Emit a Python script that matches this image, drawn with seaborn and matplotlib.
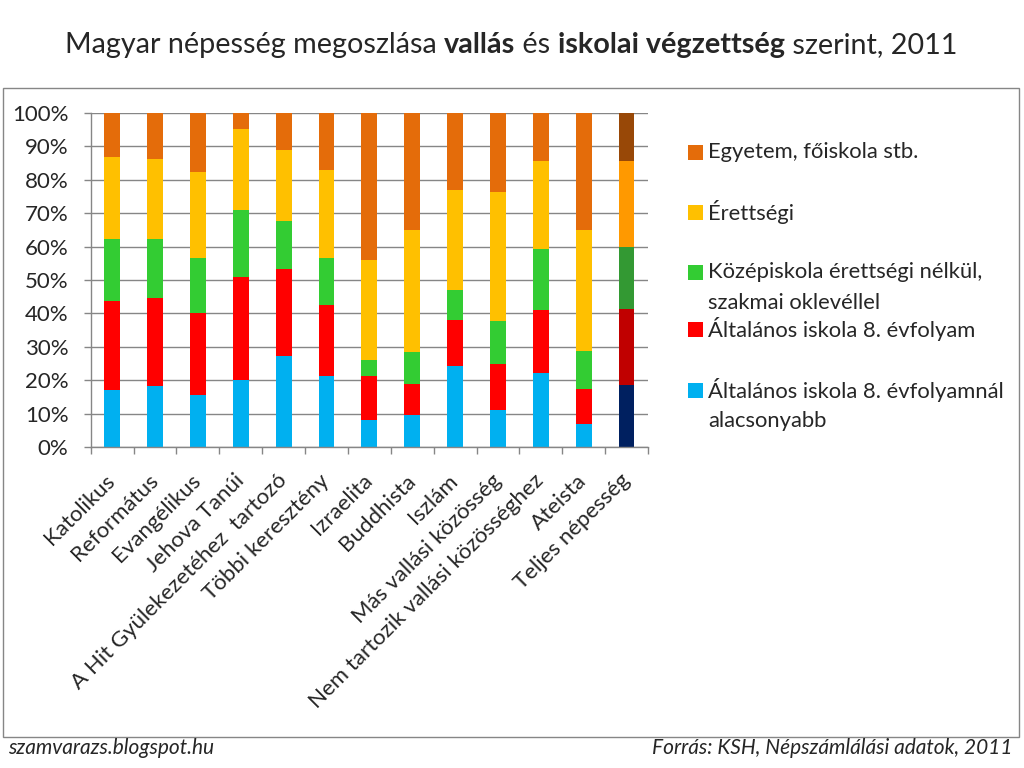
import matplotlib
matplotlib.use("Agg")
import numpy as np
import pandas as pd
import matplotlib.pyplot as plt
from matplotlib.patches import Rectangle
import seaborn as sns

# data (percent of each group)
categories = ["Katolikus", "Református", "Evangélikus", "Jehova Tanúi",
              "A Hit Gyülekezetéhez  tartozó", "Többi keresztény", "Izraelita",
              "Buddhista", "Iszlám", "Más vallási közösség",
              "Nem tartozik vallási közösséghez", "Ateista", "Teljes népesség"]
also_8 = [17.0, 18.2, 15.7, 20.0, 27.3, 21.4, 8.2, 9.6, 24.2, 11.0, 22.3, 6.8, 18.5]
alt_8 = [26.8, 26.5, 24.4, 30.9, 25.9, 21.0, 13.1, 9.3, 13.9, 14.0, 18.7, 10.7, 22.9]
kozep = [18.4, 17.5, 16.4, 20.2, 14.6, 14.1, 4.7, 9.4, 9.0, 12.8, 18.3, 11.2, 18.5]
erettsegi = [24.5, 23.9, 25.9, 24.0, 21.1, 26.3, 30.1, 36.7, 29.7, 38.4, 26.3, 36.3, 25.7]
egyetem = [13.3, 13.9, 17.6, 4.9, 11.1, 17.2, 43.9, 35.0, 23.2, 23.8, 14.4, 35.0, 14.4]

layers = ["also_8", "alt_8", "kozep", "erettsegi", "egyetem"]
legend_lines = [["Általános iskola 8. évfolyamnál", "alacsonyabb"],
                ["Általános iskola 8. évfolyam"],
                ["Középiskola érettségi nélkül,", "szakmai oklevéllel"],
                ["Érettségi"],
                ["Egyetem, főiskola stb."]]
colors = ["#00B0F0", "#FF0000", "#33CC33", "#FFC000", "#E46C0A"]
total_colors = ["#002060", "#C00000", "#339933", "#FF9900", "#984807"]

df = pd.DataFrame({"kategoria": categories, "also_8": also_8, "alt_8": alt_8,
                   "kozep": kozep, "erettsegi": erettsegi, "egyetem": egyetem})
cum = df[layers].cumsum(axis=1)
for l in layers:
    df["cum_" + l] = cum[l]

sns.set_style("white")
plt.rcParams["font.family"] = ["Lato", "DejaVu Sans"]

W, H = 1024, 768
fig = plt.figure(figsize=(10.24, 7.68), dpi=100)
ax = fig.add_axes([90.7 / W, 1 - 447 / H, (648 - 90.7) / W, (447 - 113) / H])

gray = "#868686"
# stacked bars: draw cumulative heights from the top layer down
for i in reversed(range(len(layers))):
    pal = {c: colors[i] for c in categories}
    pal[categories[-1]] = total_colors[i]
    sns.barplot(data=df, x="kategoria", y="cum_" + layers[i], hue="kategoria",
                palette=pal, legend=False, width=0.37, saturation=1,
                linewidth=0, ax=ax)

ax.set_xlim(-0.5, len(categories) - 0.5)
ax.set_ylim(0, 100)
ax.set_xlabel("")
ax.set_ylabel("")
ax.set_yticks(np.arange(0, 101, 10))
ax.set_yticklabels([f"{v}%" for v in range(0, 101, 10)], fontsize=16)
ax.yaxis.grid(True, color=gray, lw=1)
ax.set_axisbelow(True)
ax.set_xticks(range(len(categories)))
ax.set_xticklabels(categories, rotation=45, ha="right", va="center",
                   rotation_mode="anchor", fontsize=16)
ax.set_xticks(np.arange(-0.5, len(categories), 1), minor=True)
ax.tick_params(axis="x", which="major", length=0, pad=22)
ax.tick_params(axis="x", which="minor", length=5, color=gray, width=1, direction="out")
ax.tick_params(axis="y", length=5, color=gray, width=1, direction="out", pad=11)
ax.tick_params(bottom=True, left=True, which="both")
for s in ["top", "right"]:
    ax.spines[s].set_visible(False)
for s in ["left", "bottom"]:
    ax.spines[s].set_color(gray)
    ax.spines[s].set_linewidth(1)

# legend (top entry = top segment)
entry_y = [390, 329, 272, 212, 152]
for i in range(len(layers)):
    y = entry_y[i]
    fig.add_artist(Rectangle((688 / W, 1 - (y + 7.5) / H), 15 / W, 15 / H,
                             transform=fig.transFigure, color=colors[i], lw=0))
    for j, line in enumerate(legend_lines[i]):
        fig.text(708 / W, 1 - (y + 31 * j) / H, line, fontsize=15.8,
                 va="center", ha="left")

# outer chart frame
fig.add_artist(Rectangle((3 / W, 1 - 737 / H), 1016 / W, 649 / H,
                         transform=fig.transFigure, fill=False,
                         edgecolor=gray, lw=1))

# title with bold parts
parts = [("Magyar népesség megoszlása ", "normal"), ("vallás", "bold"),
         (" és ", "normal"), ("iskolai végzettség", "bold"),
         (" szerint, 2011", "normal")]
renderer = fig.canvas.get_renderer()
texts = []
x = 0
for s, w in parts:
    t = fig.text(x, 1 - 45 / H, s, fontsize=20.7, fontweight=w, va="center", ha="left")
    bb = t.get_window_extent(renderer)
    texts.append((t, x))
    x += bb.width / W
start = 0.5 - x / 2 - 1 / W
for t, off in texts:
    t.set_x(start + off)

fig.text(8 / W, 1 - 748 / H, "szamvarazs.blogspot.hu", fontsize=15,
         style="italic", va="center", ha="left")
fig.text(1012 / W, 1 - 748 / H, "Forrás: KSH, Népszámlálási adatok, 2011",
         fontsize=15, style="italic", va="center", ha="right")

fig.savefig("out.png", dpi=100)
